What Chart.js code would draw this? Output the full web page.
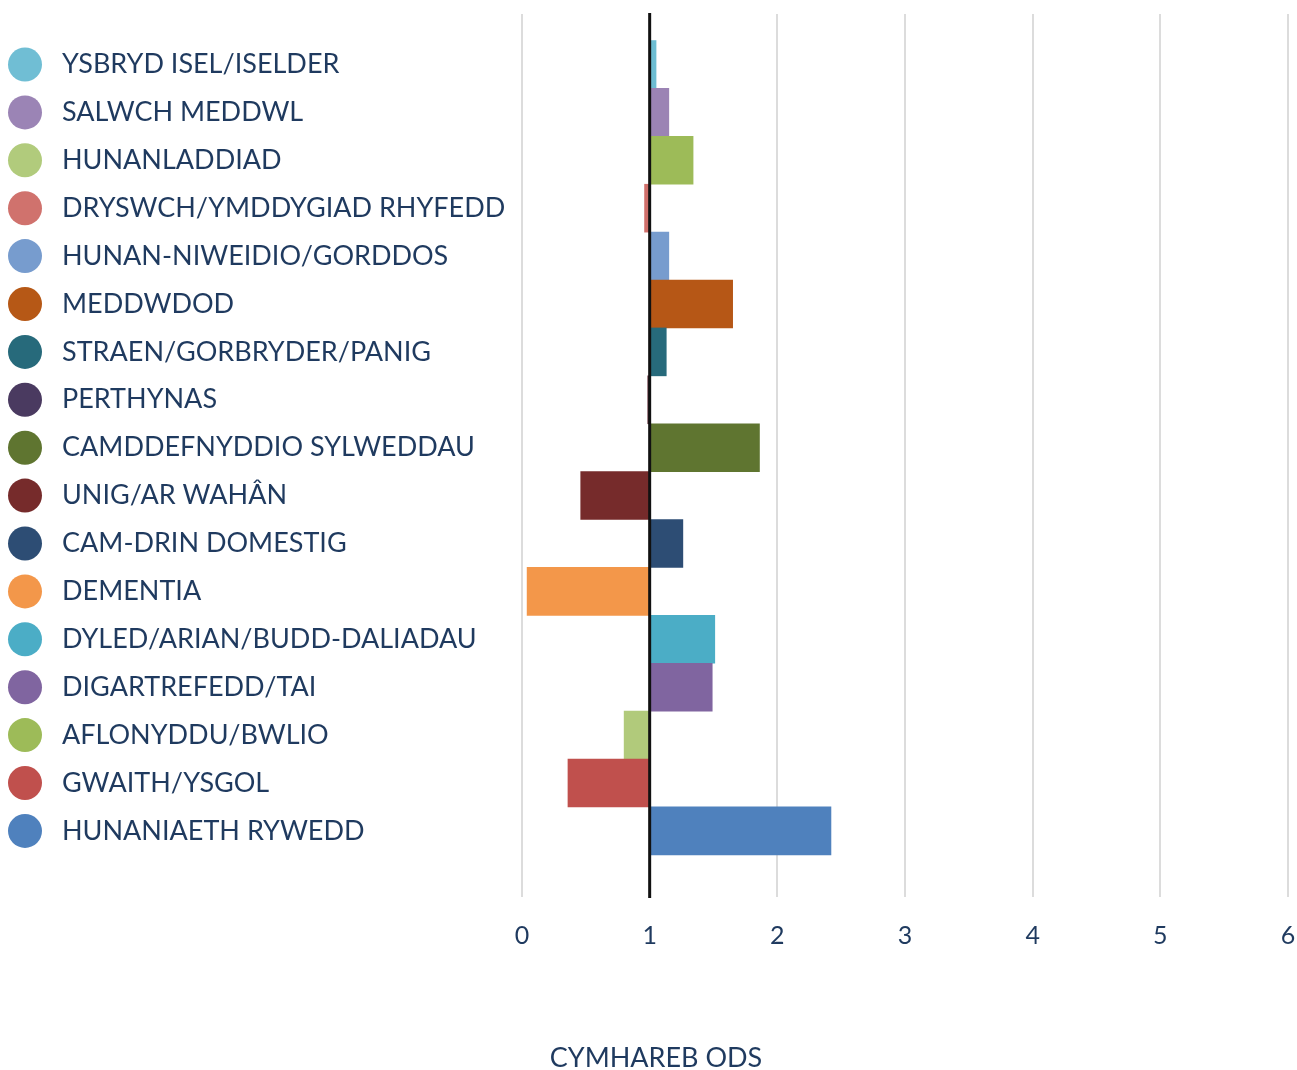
<!DOCTYPE html>
<html>
<head>
<meta charset="utf-8">
<script src="https://cdn.jsdelivr.net/npm/chart.js@4.4.1/dist/chart.umd.min.js"></script>
<style>
  html, body { margin: 0; padding: 0; background: #fff; overflow: hidden; }
  #wrap { width: 1297px; height: 1070px; position: relative; }
  canvas { display: block; }
</style>
</head>
<body>
<div id="wrap"><canvas id="oddsChart"></canvas></div>
<script>
// --- data ---
const categories = [
  'YSBRYD ISEL/ISELDER',
  'SALWCH MEDDWL',
  'HUNANLADDIAD',
  'DRYSWCH/YMDDYGIAD RHYFEDD',
  'HUNAN-NIWEIDIO/GORDDOS',
  'MEDDWDOD',
  'STRAEN/GORBRYDER/PANIG',
  'PERTHYNAS',
  'CAMDDEFNYDDIO SYLWEDDAU',
  'UNIG/AR WAHÂN',
  'CAM-DRIN DOMESTIG',
  'DEMENTIA',
  'DYLED/ARIAN/BUDD-DALIADAU',
  'DIGARTREFEDD/TAI',
  'AFLONYDDU/BWLIO',
  'GWAITH/YSGOL',
  'HUNANIAETH RYWEDD'
];
const oddsRatios = [1.05, 1.15, 1.34, 0.96, 1.15, 1.65, 1.13, 0.985, 1.86, 0.46, 1.26, 0.04, 1.51, 1.49, 0.80, 0.36, 2.42];
const baseline = 1;

const barColors = [
  '#6dbdd2', '#9b83b4', '#9dbb58', '#d0706b', '#779cce', '#b65716',
  '#276a7b', '#5e2a36', '#5f7530', '#762b2b', '#2d4d74', '#f3974a',
  '#4badc6', '#8065a0', '#b1ca7b', '#c0504d', '#4f81bd'
];
const legendColors = [
  '#70bed4', '#9b84b5', '#b1cb7c', '#d0726d', '#779cce', '#b65816',
  '#276a7b', '#4a3a60', '#5f7530', '#762b2b', '#2d4d74', '#f3974a',
  '#4badc6', '#8065a0', '#9dbb58', '#c0504d', '#4f81bd'
];
const xTickValues = [0, 1, 2, 3, 4, 5, 6];
const axisTitle = 'CYMHAREB ODS';

const textColor = '#1f3a5f';
const fontFamily = 'Lato, "Open Sans", sans-serif';

// circles next to each label, the black line at 1, and the axis title
const decorPlugin = {
  id: 'decor',
  afterDatasetsDraw(chart) {
    const { ctx, chartArea, scales } = chart;
    const x1 = scales.x.getPixelForValue(baseline);
    ctx.save();
    ctx.strokeStyle = '#111';
    ctx.lineWidth = 3;
    ctx.beginPath();
    ctx.moveTo(x1, chartArea.top - 1);
    ctx.lineTo(x1, chartArea.bottom + 1);
    ctx.stroke();

    categories.forEach((c, i) => {
      const y = scales.y.getPixelForValue(i);
      ctx.fillStyle = legendColors[i];
      ctx.beginPath();
      ctx.arc(25, y, 17, 0, Math.PI * 2);
      ctx.fill();
    });

    ctx.fillStyle = textColor;
    ctx.font = '27px ' + fontFamily;
    ctx.textAlign = 'center';
    ctx.textBaseline = 'middle';
    ctx.fillText(axisTitle, 656, 1058);
    ctx.restore();
  }
};

const ctx = document.getElementById('oddsChart').getContext('2d');
new Chart(ctx, {
  type: 'bar',
  data: {
    datasets: [{
      data: oddsRatios.map((v, i) => ({ x: [baseline, v], y: i })),
      backgroundColor: barColors,
      borderWidth: 0,
      barPercentage: 1,
      categoryPercentage: 1
    }]
  },
  options: {
    indexAxis: 'y',
    responsive: true,
    maintainAspectRatio: false,
    animation: false,
    layout: { padding: { left: 62, right: 0, top: 14, bottom: 0 } },
    plugins: {
      legend: { display: false },
      tooltip: { enabled: false }
    },
    scales: {
      x: {
        type: 'linear',
        min: 0,
        max: 6,
        afterBuildTicks: s => { s.ticks = xTickValues.map(v => ({ value: v })); },
        afterFit: s => { s.height = 173; s.paddingLeft = 0; s.paddingRight = 9; },
        grid: { color: '#dcdcdc', lineWidth: 2, drawTicks: false },
        border: { display: false },
        ticks: {
          color: textColor,
          padding: 24,
          font: { family: fontFamily, size: 25 }
        }
      },
      y: {
        type: 'linear',
        reverse: true,
        offset: false,
        min: -1.054,
        max: 17.38,
        afterBuildTicks: s => { s.ticks = categories.map((c, i) => ({ value: i })); },
        afterFit: s => { s.width = 460; s.paddingTop = 0; s.paddingBottom = 0; },
        grid: { display: false, offset: false },
        border: { display: false },
        ticks: {
          crossAlign: 'far',
          autoSkip: false,
          color: textColor,
          font: { family: fontFamily, size: 27 },
          callback: v => categories[v]
        }
      }
    }
  },
  plugins: [decorPlugin]
});
</script>
</body>
</html>
